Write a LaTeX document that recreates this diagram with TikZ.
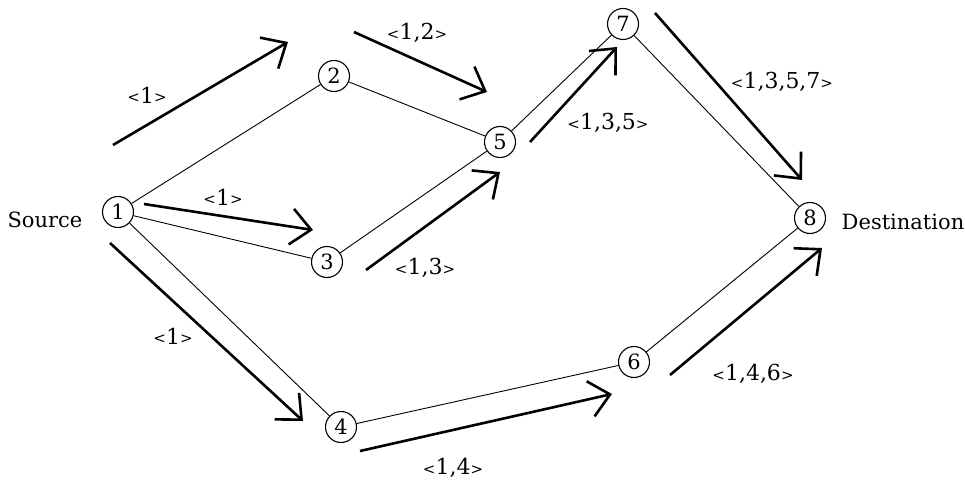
\documentclass[tikz,border=0pt]{standalone}
\usepackage{fontspec}
\setmainfont{DejaVu Serif}
\usetikzlibrary{arrows.meta}
\newcommand{\pth}[1]{{\fontsize{15}{15}\selectfont\raisebox{0.5pt}{<}}#1{\fontsize{15}{15}\selectfont\raisebox{0.5pt}{>}}}
\begin{document}
\begin{tikzpicture}[x=1pt,y=-1pt,
  vert/.style={circle,draw,line width=1.1pt,minimum size=31pt,inner sep=0pt,font=\fontsize{21}{21}\selectfont},
  edge/.style={line width=0.9pt},
  flow/.style={line width=2.6pt,-{Straight Barb[length=20pt,width=36pt,line width=2.6pt]}},
  lbl/.style={font=\fontsize{22}{22}\selectfont,inner sep=0pt},
  txt/.style={font=\fontsize{21}{21}\selectfont,inner sep=0pt}]
\useasboundingbox (0,0) rectangle (965,481);
\fill[white] (0,0) rectangle (965,481);
% vertices
\node[vert] (n1) at (118,212) {1};
\node[vert] (n2) at (334,76) {2};
\node[vert] (n3) at (327,262) {3};
\node[vert] (n4) at (341,427) {4};
\node[vert] (n5) at (500,142) {5};
\node[vert] (n6) at (634,362) {6};
\node[vert] (n7) at (623,24) {7};
\node[vert] (n8) at (810,218) {8};
% edges
\draw[edge] (n1) -- (n2);
\draw[edge] (n1) -- (n3);
\draw[edge] (n1) -- (n4);
\draw[edge] (n2) -- (n5);
\draw[edge] (n3) -- (n5);
\draw[edge] (n5) -- (n7);
\draw[edge] (n7) -- (n8);
\draw[edge] (n4) -- (n6);
\draw[edge] (n6) -- (n8);
% end labels
\node[txt] (src) at (45,220) {Source};
\node[txt] (dst) at (903,222) {Destination};
% flow arrows
\coordinate (a1s) at (113,145); \coordinate (a1e) at (288,42);
\coordinate (a2s) at (354,32);  \coordinate (a2e) at (487,92);
\coordinate (a3s) at (144,204); \coordinate (a3e) at (313,230);
\coordinate (a4s) at (366,270); \coordinate (a4e) at (500,172);
\coordinate (a5s) at (530,142); \coordinate (a5e) at (617,47);
\coordinate (a6s) at (655,13);  \coordinate (a6e) at (802,180);
\coordinate (a7s) at (110,243); \coordinate (a7e) at (303,421);
\coordinate (a8s) at (360,451); \coordinate (a8e) at (612,394);
\coordinate (a9s) at (670,375); \coordinate (a9e) at (822,248);
\draw[flow] (a1s) -- (a1e);
\draw[flow] (a2s) -- (a2e);
\draw[flow] (a3s) -- (a3e);
\draw[flow] (a4s) -- (a4e);
\draw[flow] (a5s) -- (a5e);
\draw[flow] (a6s) -- (a6e);
\draw[flow] (a7s) -- (a7e);
\draw[flow] (a8s) -- (a8e);
\draw[flow] (a9s) -- (a9e);
% path labels
\node[lbl] (l1) at (147,95) {\pth{1}};
\node[lbl] (l2) at (417,33) {\pth{1,2}};
\node[lbl] (l3) at (223,197) {\pth{1}};
\node[lbl] (l4) at (782,82) {\pth{1,3,5,7}};
\node[lbl] (l5) at (608,123) {\pth{1,3,5}};
\node[lbl] (l6) at (425,268) {\pth{1,3}};
\node[lbl] (l7) at (173,336) {\pth{1}};
\node[lbl] (l8) at (453,468) {\pth{1,4}};
\node[lbl] (l9) at (753,374) {\pth{1,4,6}};
\end{tikzpicture}
\end{document}
